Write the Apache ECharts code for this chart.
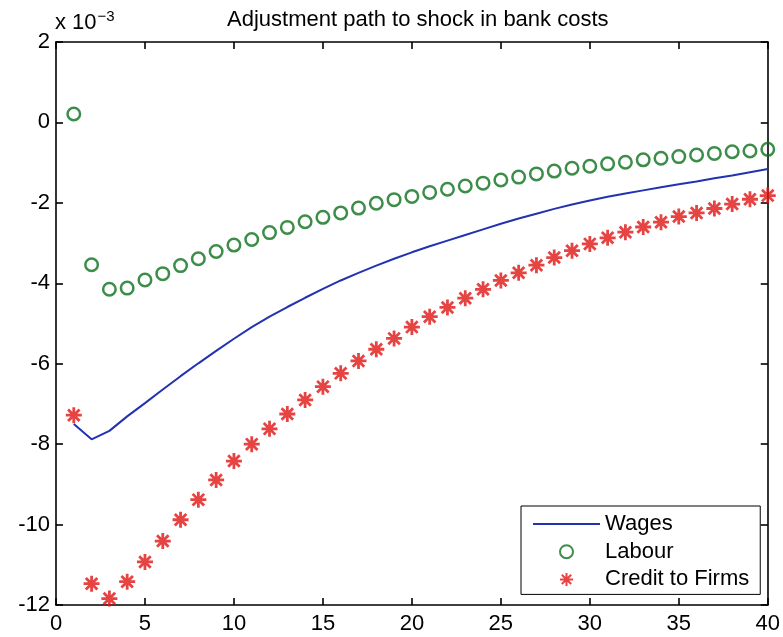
<!DOCTYPE html>
<html>
<head>
<meta charset="utf-8">
<title>Adjustment path to shock in bank costs</title>
<script src="https://cdn.jsdelivr.net/npm/echarts@6/dist/echarts.min.js"></script>
<style>
  html, body { margin: 0; padding: 0; background: #ffffff; }
  #chart { width: 783px; height: 637px; }
</style>
</head>
<body>
<div id="chart"></div>
<script>
// Impulse responses, in units of 1e-3, for periods 1..40
const periods = [1,2,3,4,5,6,7,8,9,10,11,12,13,14,15,16,17,18,19,20,
                 21,22,23,24,25,26,27,28,29,30,31,32,33,34,35,36,37,38,39,40];

const wages = [-7.50,-7.88,-7.67,-7.31,-6.98,-6.64,-6.31,-5.99,-5.68,-5.38,
               -5.09,-4.83,-4.59,-4.36,-4.14,-3.93,-3.74,-3.56,-3.39,-3.23,
               -3.08,-2.94,-2.80,-2.66,-2.52,-2.39,-2.27,-2.15,-2.04,-1.94,
               -1.85,-1.77,-1.69,-1.61,-1.54,-1.47,-1.39,-1.32,-1.24,-1.16];

const labour = [0.21,-3.54,-4.15,-4.12,-3.92,-3.76,-3.56,-3.39,-3.21,-3.05,
                -2.91,-2.74,-2.61,-2.47,-2.36,-2.25,-2.13,-2.01,-1.92,-1.84,
                -1.74,-1.66,-1.58,-1.51,-1.43,-1.36,-1.28,-1.21,-1.14,-1.09,
                -1.03,-0.99,-0.93,-0.89,-0.85,-0.81,-0.77,-0.73,-0.71,-0.67];

const credit = [-7.28,-11.47,-11.84,-11.42,-10.93,-10.41,-9.88,-9.38,-8.89,-8.42,
                -8.00,-7.62,-7.25,-6.90,-6.57,-6.24,-5.93,-5.64,-5.37,-5.09,
                -4.83,-4.60,-4.37,-4.15,-3.93,-3.74,-3.55,-3.36,-3.19,-3.02,
                -2.87,-2.73,-2.60,-2.48,-2.34,-2.25,-2.14,-2.03,-1.91,-1.82];

const seriesNames = ['Wages', 'Labour', 'Credit to Firms'];
const titleText = 'Adjustment path to shock in bank costs';

const pairs = vals => periods.map((p, i) => [p, vals[i]]);

const FONT = '"Liberation Sans", Arial, Helvetica, sans-serif';
const BLUE = '#2232b0';
const GREEN = '#0b701c';
const RED = '#e01414';
const ASTERISK = 'path://M0,-1L0,1M-1,0L1,0M-0.72,-0.72L0.72,0.72M-0.72,0.72L0.72,-0.72';

const baseAxis = {
  axisLine: { show: true, onZero: false, lineStyle: { color: '#000', width: 1.6 } },
  axisTick: { show: true, inside: true, length: 7, lineStyle: { color: '#000', width: 1.6 } },
  splitLine: { show: false },
  axisLabel: { color: '#000', fontSize: 22, fontFamily: FONT }
};

const chart = echarts.init(document.getElementById('chart'), null, { renderer: 'canvas' });

chart.setOption({
  backgroundColor: '#ffffff',
  animation: false,
  title: {
    text: titleText,
    left: 222,
    top: 4,
    textStyle: { color: '#000', fontSize: 22, fontWeight: 'normal', fontFamily: FONT }
  },
  grid: { left: 56, right: 15, top: 42, bottom: 32, containLabel: false },
  xAxis: [
    Object.assign({}, baseAxis, {
      type: 'value', min: 0, max: 40, interval: 5, position: 'bottom',
      axisLabel: Object.assign({}, baseAxis.axisLabel, { margin: 8 })
    }),
    Object.assign({}, baseAxis, {
      type: 'value', min: 0, max: 40, interval: 5, position: 'top',
      axisLabel: { show: false }
    })
  ],
  yAxis: [
    Object.assign({}, baseAxis, {
      type: 'value', min: -12, max: 2, interval: 2, position: 'left',
      axisLabel: Object.assign({}, baseAxis.axisLabel, { margin: 6 })
    }),
    Object.assign({}, baseAxis, {
      type: 'value', min: -12, max: 2, interval: 2, position: 'right',
      axisLabel: { show: false }
    })
  ],
  legend: {
    orient: 'vertical',
    left: 521,
    top: 506,
    padding: [7, 11, 4, 11],
    itemWidth: 67,
    itemHeight: 13,
    itemGap: 5.7,
    borderColor: '#000',
    borderWidth: 1,
    backgroundColor: '#fff',
    textStyle: { color: '#000', fontSize: 22, fontFamily: FONT, lineHeight: 22 },
    data: [
      { name: seriesNames[0], itemStyle: { opacity: 0 } },
      { name: seriesNames[1] },
      { name: seriesNames[2] }
    ]
  },
  graphic: [{
    type: 'text',
    left: 55,
    top: 9,
    style: {
      text: 'x 10{sup|−3}',
      fill: '#000',
      font: '22px ' + FONT,
      rich: {
        sup: { fontSize: 15, fontFamily: FONT, fill: '#000', verticalAlign: 'top', padding: [0, 0, 12, 1] }
      }
    }
  }],
  series: [
    {
      name: seriesNames[0],
      type: 'line',
      data: pairs(wages),
      showSymbol: false,
      symbol: 'none',
      lineStyle: { color: BLUE, width: 2 },
      itemStyle: { color: BLUE },
      z: 2
    },
    {
      name: seriesNames[1],
      type: 'scatter',
      data: pairs(labour),
      symbol: 'circle',
      symbolSize: 12.5,
      itemStyle: { color: 'rgba(255,255,255,0)', borderColor: GREEN, borderWidth: 2.5 },
      z: 3
    },
    {
      name: seriesNames[2],
      type: 'scatter',
      data: pairs(credit),
      symbol: ASTERISK,
      symbolSize: 16,
      itemStyle: { color: RED, borderColor: RED, borderWidth: 2.8 },
      z: 3
    }
  ]
});
</script>
</body>
</html>
